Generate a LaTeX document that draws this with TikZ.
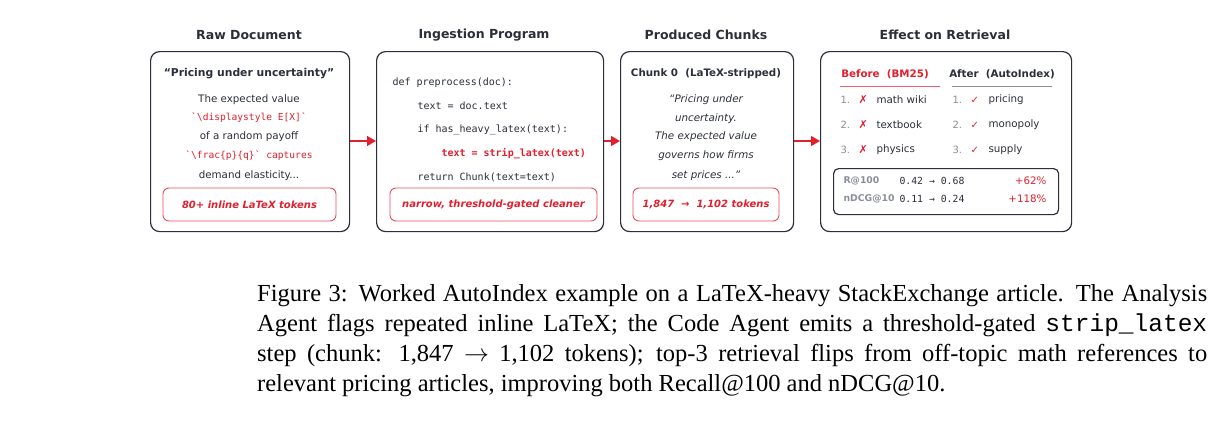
\documentclass[tikz,border=0pt]{standalone}
\usepackage{fontspec}
\setmainfont{DejaVu Sans}
\setmonofont{DejaVu Sans Mono}
\newfontfamily\capfont{Liberation Serif}
\newfontfamily\capmono{Liberation Mono}
\usetikzlibrary{arrows.meta}
\definecolor{rd}{HTML}{E0202E}
\definecolor{dk}{HTML}{2B2F3A}
\definecolor{gy}{HTML}{8A8F99}
\begin{document}
\begin{tikzpicture}[x=1pt,y=-1pt,
  panel/.style={draw=dk,line width=1.2pt,rounded corners=9pt},
  redbox/.style={draw=rd!80,line width=0.9pt,rounded corners=6pt},
  ttl/.style={font=\fontsize{12.5}{14}\selectfont\bfseries,text=dk},
  bt/.style={font=\fontsize{10.3}{12}\selectfont,text=dk},
  code/.style={font=\fontsize{10}{12}\ttfamily,text=dk,anchor=west},
  arr/.style={draw=rd,line width=1.6pt,-{Triangle[length=9pt,width=10pt]}},
  num/.style={font=\fontsize{10}{12}\selectfont,text=gy,anchor=west},
  item/.style={font=\fontsize{10.3}{12}\selectfont,text=dk,anchor=west}]
\useasboundingbox[fill=white] (0,0) rectangle (1221,434);
% panels
\node[panel,minimum width=199,minimum height=180,anchor=north west] (p1) at (150,51) {};
\node[panel,minimum width=227,minimum height=180,anchor=north west] (p2) at (376,51) {};
\node[panel,minimum width=173,minimum height=180,anchor=north west] (p3) at (620,51) {};
\node[panel,minimum width=251,minimum height=180,anchor=north west] (p4) at (820,51) {};
\node[ttl] (t1) at (249,35) {Raw Document};
\node[ttl] (t2) at (484,35) {Ingestion Program};
\node[ttl] (t3) at (706,35) {Produced Chunks};
\node[ttl] (t4) at (945,35) {Effect on Retrieval};
\draw[arr] (p1.east |- 0,141) -- (p2.west |- 0,141);
\draw[arr] (p2.east |- 0,141) -- (p3.west |- 0,141);
\draw[arr] (p3.east |- 0,141) -- (p4.west |- 0,141);
% panel 1
\node[font=\fontsize{10.8}{12}\selectfont\bfseries,text=dk] (a0) at (249,74) {“Pricing under uncertainty”};
\node[bt] (a1) at (249,100) {The expected value};
\node[font=\fontsize{9.6}{11}\ttfamily,text=rd] (a2) at (249,118) {`\textbackslash displaystyle E[X]`};
\node[bt] (a3) at (249,137) {of a random payoff};
\node[font=\fontsize{9.6}{11}\ttfamily,text=rd] (a4) at (249,156) {`\textbackslash frac\{p\}\{q\}` captures};
\node[bt] (a5) at (249,176) {demand elasticity...};
\node[redbox,minimum width=173,minimum height=33,font=\fontsize{10}{12}\selectfont\bfseries\itshape,text=rd] (r1) at (249.5,204.5) {80+ inline LaTeX tokens};
% panel 2
\node[code] (c1) at (389,83) {def preprocess(doc):};
\node[code] (c2) at (414,106) {text = doc.text};
\node[code] (c3) at (414,130) {if has\_heavy\_latex(text):};
\node[code,text=rd,font=\fontsize{10}{12}\ttfamily\bfseries] (c4) at (438,154) {text = strip\_latex(text)};
\node[code] (c5) at (414,177) {return Chunk(text=text)};
\node[redbox,minimum width=207,minimum height=33,font=\fontsize{10}{12}\selectfont\bfseries\itshape,text=rd] (r2) at (493.5,204.5) {narrow, threshold-gated cleaner};
% panel 3
\node[font=\fontsize{10.3}{12}\selectfont\bfseries,text=dk] (b0) at (706,74) {Chunk 0\ \ (LaTeX-stripped)};
\node[bt,font=\fontsize{10.3}{12}\selectfont\itshape] (b1) at (706,100) {“Pricing under};
\node[bt,font=\fontsize{10.3}{12}\selectfont\itshape] (b2) at (706,119) {uncertainty.};
\node[bt,font=\fontsize{10.3}{12}\selectfont\itshape] (b3) at (706,137) {The expected value};
\node[bt,font=\fontsize{10.3}{12}\selectfont\itshape] (b4) at (706,156) {governs how firms};
\node[bt,font=\fontsize{10.3}{12}\selectfont\itshape] (b5) at (706,176) {set prices ...”};
\node[redbox,minimum width=146,minimum height=33,font=\fontsize{10}{12}\selectfont\bfseries\itshape,text=rd] (r3) at (706,204.5) {1,847\ \ →\ \ 1,102 tokens};
% panel 4
\node[font=\fontsize{10.3}{12}\selectfont\bfseries,text=rd] (h1) at (885,74) {Before\ \ (BM25)};
\node[font=\fontsize{10.3}{12}\selectfont\bfseries,text=dk] (h2) at (1002,74) {After\ \ (AutoIndex)};
\coordinate (u1a) at (840,86); \coordinate (u1b) at (940,86);
\coordinate (u2a) at (952,86); \coordinate (u2b) at (1052,86);
\draw[rd!70,line width=0.8pt] (u1a) -- (u1b);
\draw[gy,line width=0.8pt] (u2a) -- (u2b);
\foreach \n/\y/\l/\r in {1/100/math wiki/pricing,2/125/textbook/monopoly,3/150/physics/supply}{
  \node[num] (ln\n) at (837,\y) {\n.};
  \node[item,text=rd,font=\fontsize{11}{12}\selectfont\bfseries] (lx\n) at (855,\y) {✗};
  \node[item] (lt\n) at (873,\y) {\l};
  \node[num] (rn\n) at (949,\y) {\n.};
  \node[item,text=rd,font=\fontsize{10}{12}\selectfont] (rx\n) at (967,\y) {✓};
  \node[item] (rt\n) at (985,\y) {\r};
}
\node[draw=dk,line width=1.2pt,rounded corners=5pt,minimum width=225,minimum height=46,anchor=north west] (mb) at (833,168) {};
\node[font=\fontsize{9.3}{11}\selectfont\bfseries,text=gy,anchor=west] (m1) at (840,181) {R@100};
\node[font=\fontsize{9.3}{11}\selectfont\bfseries,text=gy,anchor=west] (m2) at (840,199) {nDCG@10};
\node[font=\fontsize{9.8}{11}\ttfamily,text=dk,anchor=west] (v1) at (896,181) {0.42 → 0.68};
\node[font=\fontsize{9.8}{11}\ttfamily,text=dk,anchor=west] (v2) at (896,199) {0.11 → 0.24};
\node[font=\fontsize{10.3}{12}\selectfont,text=rd,anchor=east] (g1) at (1050,181) {+62\%};
\node[font=\fontsize{10.3}{12}\selectfont,text=rd,anchor=east] (g2) at (1050,199) {+118\%};
% caption
\node[anchor=north west,text width=950,align=justify,inner sep=0pt,font=\capfont\fontsize{24.5}{30}\selectfont,text=black] (cap) at (257,284)
{Figure 3: Worked AutoIndex example on a LaTeX-heavy StackExchange article. The Analysis\linebreak
Agent flags repeated inline LaTeX; the Code Agent emits a threshold-gated {\capmono strip\_latex}\linebreak
step (chunk: 1,847 $\rightarrow$ 1,102 tokens); top-3 retrieval flips from off-topic math references to\linebreak
relevant pricing articles, improving both Recall@100 and nDCG@10.};
\end{tikzpicture}
\end{document}
